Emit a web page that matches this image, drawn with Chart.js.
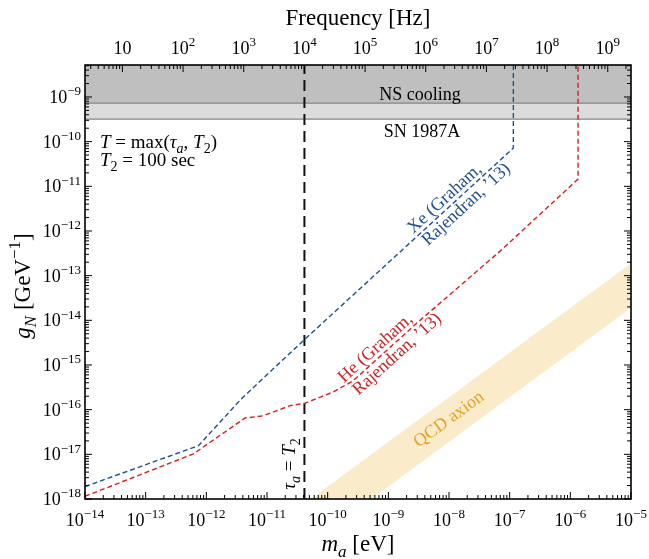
<!DOCTYPE html>
<html>
<head>
<meta charset="utf-8">
<script src="https://cdn.jsdelivr.net/npm/chart.js@4.4.0/dist/chart.umd.min.js"></script>
<style>
html,body{margin:0;padding:0;background:#fff}
</style>
</head>
<body>
<canvas id="canvas" width="649" height="559"></canvas>
<script>
// axis ranges
var massMin=1e-14, massMax=1e-5;
var gMin=1e-18, gMax=5.2e-9;
var hzPerEv=2.418e14;
var massExp=[-14,-13,-12,-11,-10,-9,-8,-7,-6,-5];
var freqExp=[1,2,3,4,5,6,7,8,9];
var gExp=[-18,-17,-16,-15,-14,-13,-12,-11,-10,-9];

// Xe (Graham, Rajendran '13)
var xeMass=[1e-14,7.4e-13,3.83e-12,4.23e-11,1.15e-7,1.15e-7];
var xeG=[1.9e-18,1.56e-17,1.78e-16,3.8e-15,7.2e-11,1e-8];
// He (Graham, Rajendran '13)
var heMass=[1e-14,6.1e-13,4.34e-12,8.7e-12,2.4e-11,4.23e-11,1.22e-10,2.61e-10,2.93e-9,6.9e-8,1.34e-6,1.34e-6];
var heG=[1.15e-18,1.02e-17,6.5e-17,7.3e-17,1.23e-16,1.4e-16,2.47e-16,4.4e-16,8.6e-15,3.5e-13,1.45e-11,1e-8];
// QCD axion band edges
var qcdMass=[1e-11,1e-5];
var qcdUpper=[1.9e-19,1.9e-13];
var qcdLower=[1.9e-20,1.9e-14];
// bounds
var nsCooling=7.3e-10;
var sn1987a=3.2e-10;
// tau_a = T2 line
var tauMass=4.14e-11;

function pts(xs,ys){
  return xs.map(function(x,i){return {x:x,y:ys[i]};});
}
function flat(v){
  return [{x:massMin,y:v},{x:massMax,y:v}];
}

var SERIF='"Liberation Serif", "DejaVu Serif", serif';

function fontOf(f,size){
  var s=(f.indexOf('b')>=0||f.indexOf('p')>=0)?Math.round(size*0.72):size;
  return (f.indexOf('i')>=0?'italic ':'')+s+'px '+SERIF;
}
function richWidth(ctx,parts,size){
  var w=0;
  parts.forEach(function(p){ctx.font=fontOf(p[1]||'',size);w+=ctx.measureText(p[0]).width;});
  return w;
}
function drawRich(ctx,parts,x,y,size,align){
  var w=richWidth(ctx,parts,size);
  var cx=x;
  if(align==='center')cx=x-w/2;
  if(align==='right')cx=x-w;
  ctx.textAlign='left';
  parts.forEach(function(p){
    var f=p[1]||'';
    ctx.font=fontOf(f,size);
    var dy=0;
    if(f.indexOf('b')>=0)dy=size*0.25;
    if(f.indexOf('p')>=0)dy=-size*0.42;
    ctx.fillText(p[0],cx,y+dy);
    cx+=ctx.measureText(p[0]).width;
  });
}
function pow10(e){
  if(e===1)return [['10','']];
  return [['10',''],[String(e).replace('-','\u2212'),'p']];
}
function alongLabel(ctx,p0,p1,t,perp,along,text,color,size){
  var dx=p1.x-p0.x, dy=p1.y-p0.y, L=Math.hypot(dx,dy);
  var ux=dx/L, uy=dy/L, nx=-uy, ny=ux;
  var cx=p0.x+dx*t+nx*perp+ux*along;
  var cy=p0.y+dy*t+ny*perp+uy*along;
  ctx.save();
  ctx.translate(cx,cy);
  ctx.rotate(Math.atan2(dy,dx));
  ctx.fillStyle=color;
  ctx.font=size+'px '+SERIF;
  ctx.textAlign='center';
  ctx.textBaseline='middle';
  ctx.fillText(text,0,0);
  ctx.restore();
}

var decor={
  id:'decor',
  afterDraw:function(chart){
    var ctx=chart.ctx, a=chart.chartArea;
    var sx=chart.scales.x, sx2=chart.scales.x2, sy=chart.scales.y;
    ctx.save();
    // inward ticks
    ctx.strokeStyle='#000';
    ctx.lineWidth=1;
    ctx.beginPath();
    function tickSet(scale,lo,hi,cb){
      for(var e=Math.floor(Math.log10(lo));e<=Math.ceil(Math.log10(hi));e++){
        for(var k=1;k<=9;k++){
          var v=k*Math.pow(10,e);
          if(v<lo*0.9999||v>hi*1.0001)continue;
          cb(scale.getPixelForValue(v),k===1);
        }
      }
    }
    tickSet(sx,massMin,massMax,function(p,maj){
      var l=maj?7:4;
      ctx.moveTo(p,a.bottom);ctx.lineTo(p,a.bottom-l);
    });
    tickSet(sx2,massMin*hzPerEv,massMax*hzPerEv,function(p,maj){
      var l=maj?7:4;
      ctx.moveTo(p,a.top);ctx.lineTo(p,a.top+l);
    });
    tickSet(sy,gMin,gMax,function(p,maj){
      var l=maj?7:4;
      ctx.moveTo(a.left,p);ctx.lineTo(a.left+l,p);
      ctx.moveTo(a.right,p);ctx.lineTo(a.right-l,p);
    });
    ctx.stroke();
    // frame
    ctx.lineWidth=1.6;
    ctx.strokeRect(a.left,a.top,a.right-a.left,a.bottom-a.top);

    // tick labels
    ctx.fillStyle='#000';
    ctx.textBaseline='alphabetic';
    massExp.forEach(function(e){
      drawRich(ctx,pow10(e),sx.getPixelForValue(Math.pow(10,e)),526,18,'center');
    });
    freqExp.forEach(function(e){
      drawRich(ctx,pow10(e),sx2.getPixelForValue(Math.pow(10,e)),54,18,'center');
    });
    gExp.forEach(function(e){
      drawRich(ctx,pow10(e),81,sy.getPixelForValue(Math.pow(10,e))+6,18,'right');
    });

    // axis titles
    drawRich(ctx,[['Frequency [Hz]','']],(a.left+a.right)/2,25,23,'center');
    drawRich(ctx,[['m','i'],['a','ib'],[' [eV]','']],(a.left+a.right)/2,551,23,'center');
    ctx.save();
    ctx.translate(30,(a.top+a.bottom)/2+4);
    ctx.rotate(-Math.PI/2);
    drawRich(ctx,[['g','i'],['N','ib'],[' [GeV','' ],['\u22121','p'],[']','']],0,0,23,'center');
    ctx.restore();

    // region labels
    drawRich(ctx,[['NS cooling','']],420,100,18,'center');
    drawRich(ctx,[['SN 1987A','']],422,137,18,'center');
    drawRich(ctx,[['T','i'],[' = max(',''],['\u03c4','i'],['a','ib'],[', ',''],['T','i'],['2','b'],[')','']],100,148,19,'left');
    drawRich(ctx,[['T','i'],['2','b'],[' = 100 sec','']],100,166,19,'left');

    ctx.save();
    ctx.translate(sx.getPixelForValue(tauMass)-9,464);
    ctx.rotate(-Math.PI/2);
    drawRich(ctx,[['\u03c4','i'],['a','ib'],[' = ',''],['T','i'],['2','b']],0,0,19,'center');
    ctx.restore();

    // curve labels
    var px=function(m,g){return {x:sx.getPixelForValue(m),y:sy.getPixelForValue(g)};};
    var xa=px(xeMass[3],xeG[3]), xb=px(xeMass[4],xeG[4]);
    alongLabel(ctx,xa,xb,0.70,-9,0,'Xe (Graham,','#1f4f8c',18);
    alongLabel(ctx,xa,xb,0.70,10,12,'Rajendran, \u201913)','#1f4f8c',18);
    var ha=px(heMass[7],heG[7]), hb=px(heMass[8],heG[8]);
    alongLabel(ctx,ha,hb,0.45,-9,0,'He (Graham,','#cc2222',18);
    alongLabel(ctx,ha,hb,0.45,10,12,'Rajendran, \u201913)','#cc2222',18);
    var qa=px(qcdMass[0],Math.sqrt(qcdUpper[0]*qcdLower[0])), qb=px(qcdMass[1],Math.sqrt(qcdUpper[1]*qcdLower[1]));
    var t=(449-qa.x)/(qb.x-qa.x);
    alongLabel(ctx,qa,qb,t,0,0,'QCD axion','#e3a226',18);
    ctx.restore();
  }
};

var config={
  type:'line',
  data:{datasets:[
    {data:pts(xeMass,xeG),borderColor:'#1f4f8c',borderWidth:1.4,borderDash:[5,3],pointRadius:0,fill:false},
    {data:pts(heMass,heG),borderColor:'#d42020',borderWidth:1.4,borderDash:[5,3],pointRadius:0,fill:false},
    {data:[{x:tauMass,y:gMin},{x:tauMass,y:1e-8}],borderColor:'#111',borderWidth:2,borderDash:[11,6],pointRadius:0,fill:false},
    {data:pts(qcdMass,qcdUpper),borderWidth:0,borderColor:'rgba(0,0,0,0)',backgroundColor:'#faebcb',pointRadius:0,fill:'+1'},
    {data:pts(qcdMass,qcdLower),borderWidth:0,borderColor:'rgba(0,0,0,0)',pointRadius:0,fill:false},
    {data:flat(nsCooling),borderColor:'#858585',borderWidth:1.2,backgroundColor:'#bfbfbf',pointRadius:0,fill:'end'},
    {data:flat(sn1987a),borderColor:'#858585',borderWidth:1.2,backgroundColor:'#dcdcdc',pointRadius:0,fill:{value:nsCooling}}
  ]},
  options:{
    responsive:false,
    animation:false,
    layout:{padding:{right:18}},
    elements:{line:{tension:0}},
    plugins:{legend:{display:false},tooltip:{enabled:false}},
    scales:{
      x:{type:'logarithmic',position:'bottom',min:massMin,max:massMax,
        ticks:{display:false},grid:{display:false},border:{display:false},
        afterFit:function(s){s.height=60;}},
      x2:{type:'logarithmic',position:'top',min:massMin*hzPerEv,max:massMax*hzPerEv,
        ticks:{display:false},grid:{display:false},border:{display:false},
        afterFit:function(s){s.height=65;}},
      y:{type:'logarithmic',min:gMin,max:gMax,
        ticks:{display:false},grid:{display:false},border:{display:false},
        afterFit:function(s){s.width=85;}}
    }
  },
  plugins:[decor]
};

window.onload=function(){
  var ctx=document.getElementById('canvas').getContext('2d');
  window.graph1=new Chart(ctx,config);
};
</script>
</body>
</html>
